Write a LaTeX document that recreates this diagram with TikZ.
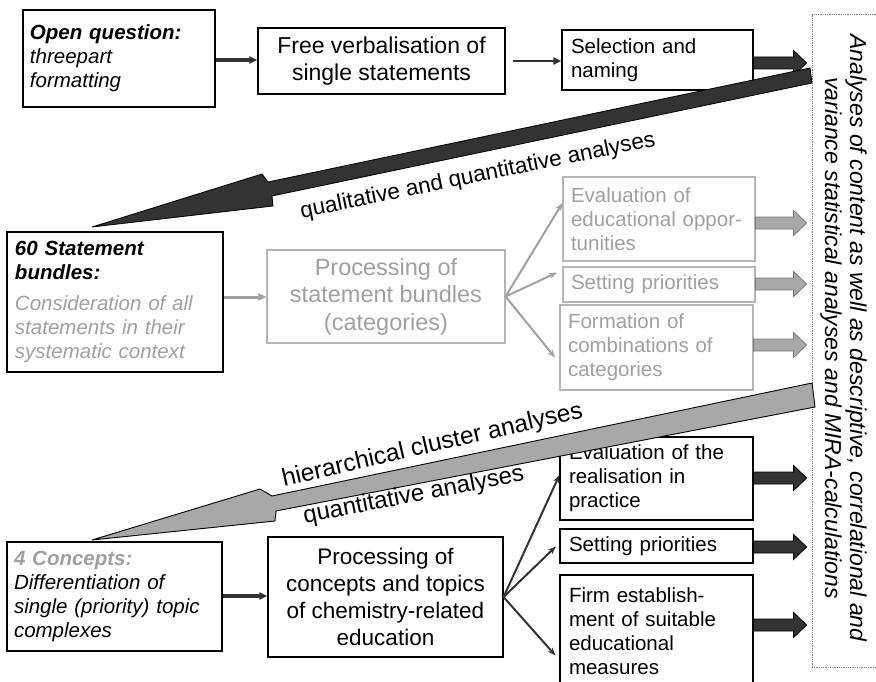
\documentclass[tikz,border=0pt]{standalone}
\usepackage{fontspec}
\setmainfont{Liberation Sans}
\usetikzlibrary{arrows.meta,calc}
\definecolor{dk}{HTML}{333333}
\definecolor{gtxt}{HTML}{A0A0A0}
\definecolor{gbox}{HTML}{B4B4B4}
\definecolor{gfill}{HTML}{A8A8A8}
\definecolor{goutl}{HTML}{7A7A7A}
\tikzset{
  anybox/.style={rectangle, draw=black, line width=1.1pt, inner sep=0pt},
  lbox/.style={anybox, align=left, font=\fontsize{20.5pt}{24pt}\selectfont},
  sbox/.style={anybox, align=left, font=\fontsize{20.5pt}{24pt}\selectfont},
  cbox/.style={anybox, align=center, font=\fontsize{22.5pt}{27pt}\selectfont},
  graybox/.style={draw=gbox, text=gtxt},
  lbl/.style={font=\fontsize{22.5pt}{26pt}\selectfont, inner sep=0pt, anchor=base},
  rtxt/.style={font=\fontsize{23pt}{26pt}\selectfont\itshape, inner sep=0pt, anchor=base, rotate=-90},
  thinarr/.style={draw=dk, -{Triangle[length=8pt,width=7pt]}},
  fanarr/.style={draw=dk, line width=2pt, -{Stealth[length=8pt,width=6pt]}},
  grayfan/.style={fanarr, draw=gtxt, fill=gtxt},
  blk/.style={line width=0.8pt, to path={let \p1=(\tikztostart), \p2=(\tikztotarget) in
     (\x1,\y1+6pt) -- (\x2-18pt,\y1+6pt) -- (\x2-18pt,\y1+12.5pt) -- (\x2-5pt,\y1)
     -- (\x2-18pt,\y1-12.5pt) -- (\x2-18pt,\y1-6pt) -- (\x1,\y1-6pt) -- cycle}},
  darkblk/.style={blk, fill=dk, draw=black},
  grayblk/.style={blk, fill=gfill, draw=goutl},
}
\begin{document}
\begin{tikzpicture}[x=1pt,y=-1pt]
\useasboundingbox (0,0) rectangle (876,682);
\fill[white] (0,0) rectangle (876,682);

% ---- top row
\node[lbox, minimum width=192pt, minimum height=97pt, text width=178pt] (oq) at (119,58.5)
  {{\bfseries\itshape Open question:}\\\itshape threepart\\\itshape formatting};
\node[cbox, font=\fontsize{23pt}{27pt}\selectfont, minimum width=247pt, minimum height=66pt] (fv) at (381.5,61)
  {Free verbalisation of\\single statements};
\node[sbox, minimum width=191pt, minimum height=60pt, text width=173pt] (sel) at (657.5,60)
  {Selection and\\naming};

% ---- right dotted box
\node[draw=gray, densely dotted, line width=0.8pt, minimum width=80pt, minimum height=653pt] (ana) at (852,340.5) {};
\node[rtxt] (ana1) at (850,338) {Analyses of content as well as descriptive, correlational and};
\node[rtxt] (ana2) at (825,338) {variance statistical analyses and MIRA-calculations};

% ---- middle row
\node[lbox, line width=1.5pt, minimum width=216pt, minimum height=140pt, text width=200pt] (sb) at (115,302)
  {{\bfseries\itshape 60 Statement\\bundles:}\\[7pt]{\color{gtxt}\itshape Consideration of all\\statements in their\\systematic context}};
\node[cbox, graybox, font=\fontsize{23.5pt}{27.5pt}\selectfont, minimum width=238pt, minimum height=93pt] (ps) at (386,296.5)
  {Processing of\\statement bundles\\(categories)};
\node[sbox, graybox, minimum width=192pt, minimum height=84pt, text width=176pt] (ee) at (659,219)
  {Evaluation of\\educational oppor-\\tunities};
\node[sbox, graybox, minimum width=192pt, minimum height=35pt, text width=176pt] (sp1) at (659,284.5)
  {Setting priorities};
\node[sbox, graybox, minimum width=193pt, minimum height=85pt, text width=177pt] (fo) at (656.5,347.5)
  {Formation of\\combinations of\\categories};

% ---- bottom row
\node[lbox, minimum width=215pt, minimum height=109pt, text width=201pt] (co) at (114.5,596.5)
  {{\color{gtxt}\bfseries\itshape 4 Concepts:}\\\itshape Differentiation of\\\itshape single (priority) topic\\\itshape complexes};
\node[cbox, minimum width=235pt, minimum height=120pt] (pc) at (385.5,597)
  {Processing of\\concepts and topics\\of chemistry-related\\education};
\node[sbox, minimum width=193pt, minimum height=83pt, text width=175pt] (er) at (656.5,478.5)
  {Evaluation of the\\realisation in\\practice};
\node[sbox, minimum width=193pt, minimum height=34pt, text width=175pt] (sp2) at (656.5,546)
  {Setting priorities};
\node[sbox, minimum width=193pt, minimum height=113pt, text width=175pt] (fe) at (656.5,631.5)
  {Firm establish-\\ment of suitable\\educational\\measures};

% ---- small connectors
\draw[thinarr, line width=3.5pt] (oq.east |- 0,60) -- (fv.west |- 0,60);
\draw[thinarr, line width=2.5pt, shorten <=7pt] (fv.east |- 0,61) -- (sel.west |- 0,61);
\draw[thinarr, draw=gtxt, line width=3pt] (sb.east |- 0,297) -- (ps.west |- 0,297);
\draw[thinarr, line width=3.5pt] (co.east |- 0,596) -- (pc.west |- 0,596);

\draw[grayfan] (ps.east) -- (ee.west |- 0,203);
\draw[grayfan, shorten >=6pt] (ps.east) -- (sp1.west |- 0,270);
\draw[grayfan, shorten >=7pt] (ps.east) -- (fo.west |- 0,363);
\draw[fanarr] (pc.east) -- (er.west |- 0,475);
\draw[fanarr, shorten >=5pt] (pc.east) -- (sp2.west |- 0,543);
\draw[fanarr, shorten >=6pt] (pc.east) -- (fe.west |- 0,660);

% ---- block arrows to the analyses box
\draw[darkblk] (sel.east |- 0,63) to (ana.west |- 0,63);
\draw[grayblk] (ee.east |- 0,223) to (ana.west |- 0,223);
\draw[grayblk] (sp1.east |- 0,284) to (ana.west |- 0,284);
\draw[grayblk] (fo.east |- 0,345) to (ana.west |- 0,345);
\draw[darkblk] (er.east |- 0,478) to (ana.west |- 0,478);
\draw[darkblk] (sp2.east |- 0,547) to (ana.west |- 0,547);
\draw[darkblk] (fe.east |- 0,625) to (ana.west |- 0,625);

% ---- big diagonal arrows
\coordinate (dR1) at (810,68);  \coordinate (dR2) at (812,83);
\coordinate (dS1) at (268,182); \coordinate (dB1) at (262,174);
\coordinate (dT)  at (92,227);
\coordinate (dB2) at (273,206); \coordinate (dS2) at (272,196);
\draw[black, line width=0.8pt, fill=dk, line join=miter]
  (dR1) -- (dS1) -- (dB1) -- (dT) -- (dB2) -- (dS2) -- (dR2) -- cycle;

\coordinate (gR1) at (812,383); \coordinate (gR2) at (815,407);
\coordinate (gS1) at (272,496); \coordinate (gB1) at (260,489);
\coordinate (gT)  at (92,540);
\coordinate (gB2) at (275,521); \coordinate (gS2) at (276,511);
\draw[black, line width=0.9pt, fill=gfill, line join=miter]
  (gR1) -- (gS1) -- (gB1) -- (gT) -- (gB2) -- (gS2) -- (gR2) -- cycle;

% ---- labels on diagonal arrows
\node[lbl, rotate=11.5] (l1) at (479,182) {qualitative and quantitative analyses};
\node[lbl, font=\fontsize{24.5pt}{28pt}\selectfont, rotate=13] (l2) at (434,452) {hierarchical cluster analyses};
\node[lbl, font=\fontsize{24pt}{28pt}\selectfont, rotate=11] (l3) at (415,502) {quantitative analyses};
\end{tikzpicture}
\end{document}
